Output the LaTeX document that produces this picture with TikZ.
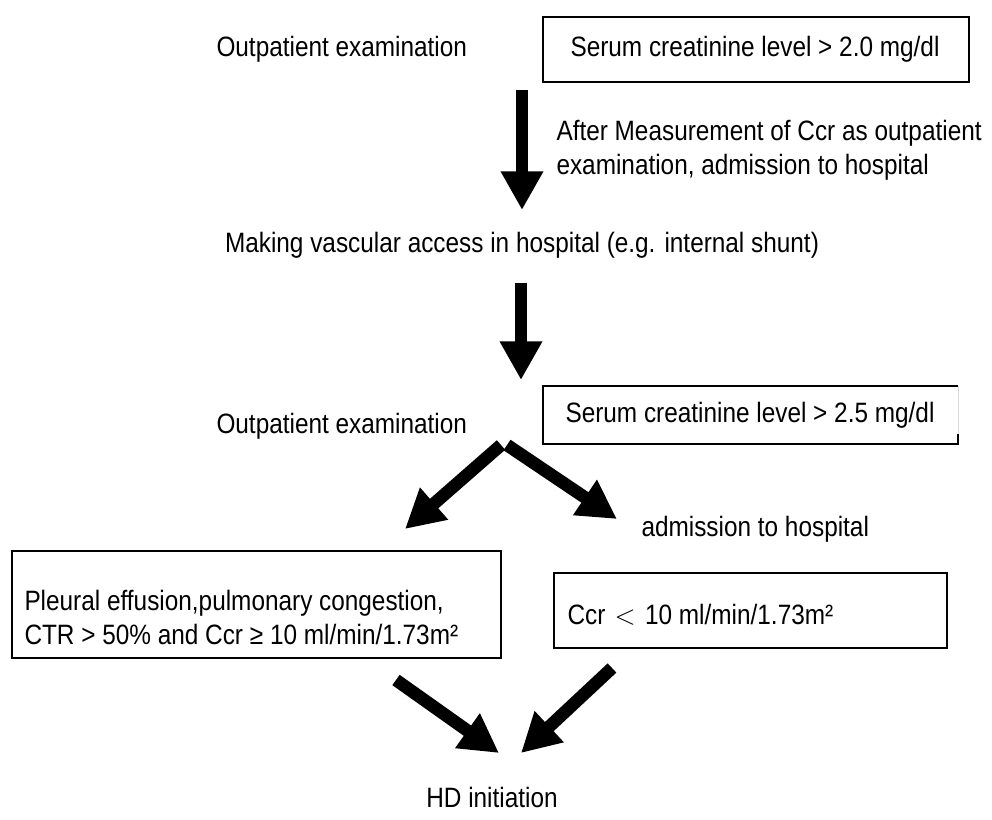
\documentclass[tikz,border=0pt]{standalone}
\usepackage{fontspec}
\setmainfont{Liberation Sans}[FakeStretch=0.87]
\usetikzlibrary{arrows.meta}

\tikzset{every picture/.style={line width=0.75pt},
  fatarrow/.style={line width=9.5pt,-{Triangle[length=29pt,width=30pt]}},
  lbl/.style={font=\fontsize{21}{25.5}\selectfont,inner sep=0pt},
  boxline/.style={line width=1.1pt}}

\begin{document}
\begin{tikzpicture}[x=0.75pt,y=0.75pt,yscale=-1,xscale=1]
\useasboundingbox (0,0) rectangle (992,819);

%Shape: Rectangle
\draw [boxline] (543,17) -- (969,17) -- (969,82) -- (543,82) -- cycle ;
%Shape: Rectangle (right side faint)
\draw [boxline] (958,434) -- (958,444) -- (543,444) -- (543,386) -- (958,386) ;
\draw [black!15] (958,386) -- (958,434) ;
%Shape: Rectangle
\draw [boxline] (12,551) -- (501,551) -- (501,658) -- (12,658) -- cycle ;
%Shape: Rectangle
\draw [boxline] (554,573) -- (947,573) -- (947,648) -- (554,648) -- cycle ;

% Text Node
\node [lbl,anchor=west] (outA) at (216,49) {Outpatient examination};
% Text Node
\node [lbl] (creatA) at (755,49) {Serum creatinine level > 2.0 mg/dl};
% Text Node
\node [lbl,anchor=west,align=left] (noteA) at (556,150) {After Measurement of Ccr as outpatient\\examination, admission to hospital};
% Text Node
\node [lbl] (access) at (522,245) {Making vascular access in hospital (e.g. internal shunt)};
% Text Node
\node [lbl,anchor=west] (outB) at (216,426) {Outpatient examination};
% Text Node
\node [lbl] (creatB) at (750,415) {Serum creatinine level > 2.5 mg/dl};
% Text Node
\node [lbl,anchor=west] (admit) at (641,529) {admission to hospital};
% Text Node
\node [lbl,anchor=west,align=left] (pleural) at (24,617) {Pleural effusion,pulmonary congestion,\\CTR > 50\% and Ccr ≥ 10 ml/min/1.73m²};
% Text Node
\node [lbl,anchor=west] (ccr) at (567,615) {Ccr\,\,$<$\,\,10 ml/min/1.73m²};
% Text Node
\node [lbl] (hd) at (492,797) {HD initiation};

%Arrow ends
\coordinate (a1s) at (522,90);
\coordinate (a1e) at (522,210);
\coordinate (a2s) at (521,283);
\coordinate (a2e) at (521,380);
\coordinate (a3s) at (501,445);
\coordinate (a3e) at (405,529);
\coordinate (a4s) at (507,445);
\coordinate (a4e) at (617,519);
\coordinate (a5s) at (396,680);
\coordinate (a5e) at (499,753);
\coordinate (a6s) at (612,668);
\coordinate (a6e) at (521,753);

%Straight Lines
\draw [fatarrow] (a1s) -- (a1e) ;
\draw [fatarrow] (a2s) -- (a2e) ;
\draw [fatarrow] (a3s) -- (a3e) ;
\draw [fatarrow] (a4s) -- (a4e) ;
\draw [fatarrow] (a5s) -- (a5e) ;
\draw [fatarrow] (a6s) -- (a6e) ;

\end{tikzpicture}
\end{document}
